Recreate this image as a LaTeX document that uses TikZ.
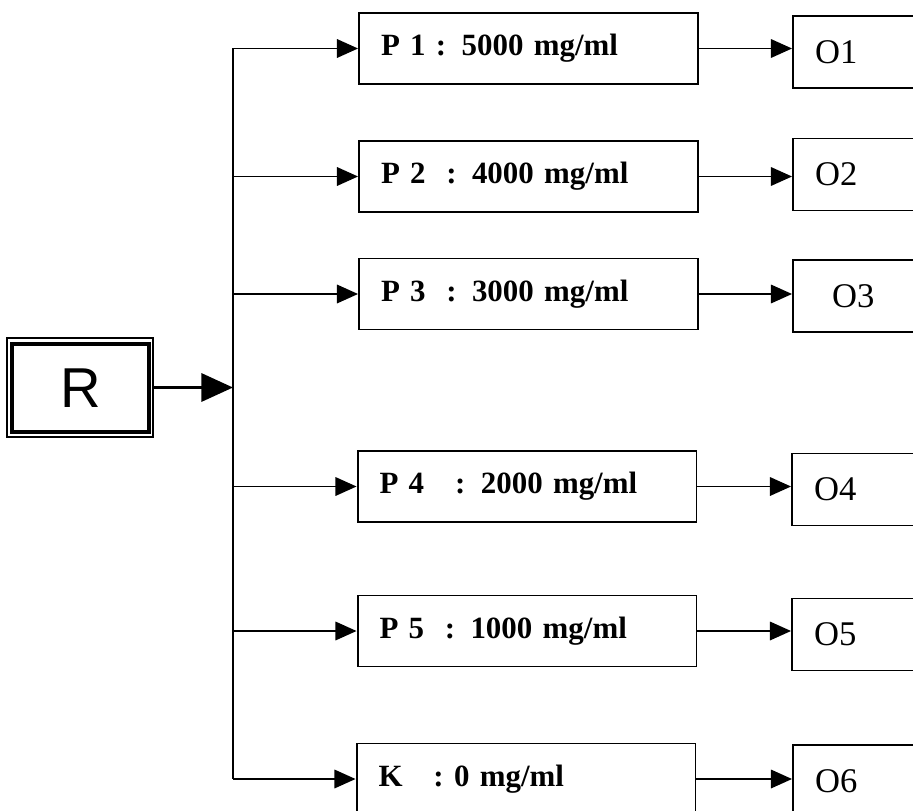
\documentclass[tikz,border=0pt]{standalone}
\usepackage{fontspec}
\setmainfont{Liberation Serif}
\newfontfamily\rfont{Liberation Sans}
\usetikzlibrary{arrows.meta}
\begin{document}
\begin{tikzpicture}[x=0.02cm,y=-0.02cm,
 pbox/.style={draw, line width=1.1pt, minimum height=1.42cm, text width=5.9cm, inner xsep=0.44cm, inner ysep=0pt, align=left, font=\bfseries\fontsize{17.6}{20}\selectfont},
 obox/.style={draw, line width=1.1pt, minimum height=1.44cm, text width=3.12cm, inner xsep=0.44cm, inner ysep=0pt, align=left, font=\fontsize{19.7}{22}\selectfont},
 arr/.style={line width=1.1pt, -{Triangle[length=12pt,width=10.5pt]}},
 rarr/.style={line width=1.7pt, -{Triangle[length=18pt,width=16pt]}},
]
\useasboundingbox (0,0) rectangle (913,811);
\clip (0,0) rectangle (913,811);
\fill[white] (0,0) rectangle (913,811);

% R box
\node[draw, line width=0.9pt, minimum width=2.92cm, minimum height=1.98cm] (Rout) at (80,387.5) {};
\node[draw, line width=2.8pt, minimum width=2.74cm, minimum height=1.76cm, inner sep=0pt, font=\rfont\fontsize{32}{36}\selectfont] (R) at (80.5,388) {\raisebox{-4pt}{R}};

% P boxes
\node[pbox] (P1) at (528.5,48.5) {P 1 : 5000 mg/ml};
\node[pbox] (P2) at (528.5,176.5) {P 2\ \ : 4000 mg/ml};
\node[pbox] (P3) at (528.5,294) {P 3\ \ : 3000 mg/ml};
\node[pbox] (P4) at (527,486.5) {P 4\ \ \ : 2000 mg/ml};
\node[pbox] (P5) at (527,631) {P 5\ \ : 1000 mg/ml};
\node[pbox] (K) at (526,779) {K\ \ \ : 0 mg/ml};

% O boxes
\node[obox] (O1) at (893,52) {O1};
\node[obox] (O2) at (893,174.5) {O2};
\node[obox] (O3) at (893,296) {\hspace{0.34cm}O3};
\node[obox] (O4) at (892,489.5) {O4};
\node[obox] (O5) at (892,634.5) {O5};
\node[obox] (O6) at (893,781) {O6};

% trunk
\coordinate (T) at (233,0);
\draw[line width=1.1pt] (T |- P1.west) -- (T |- K.west);
\foreach \n in {P1,P2,P3,P4,P5,K}
  \draw[arr] (T |- \n.west) -- (\n.west);

% R arrow
\draw[rarr] (Rout.east) -- (Rout.east -| T);

% P -> O arrows
\foreach \p/\o in {P1/O1,P2/O2,P3/O3,P4/O4,P5/O5,K/O6}
  \draw[arr] (\p.east) -- (\p.east -| \o.west);
\end{tikzpicture}
\end{document}
